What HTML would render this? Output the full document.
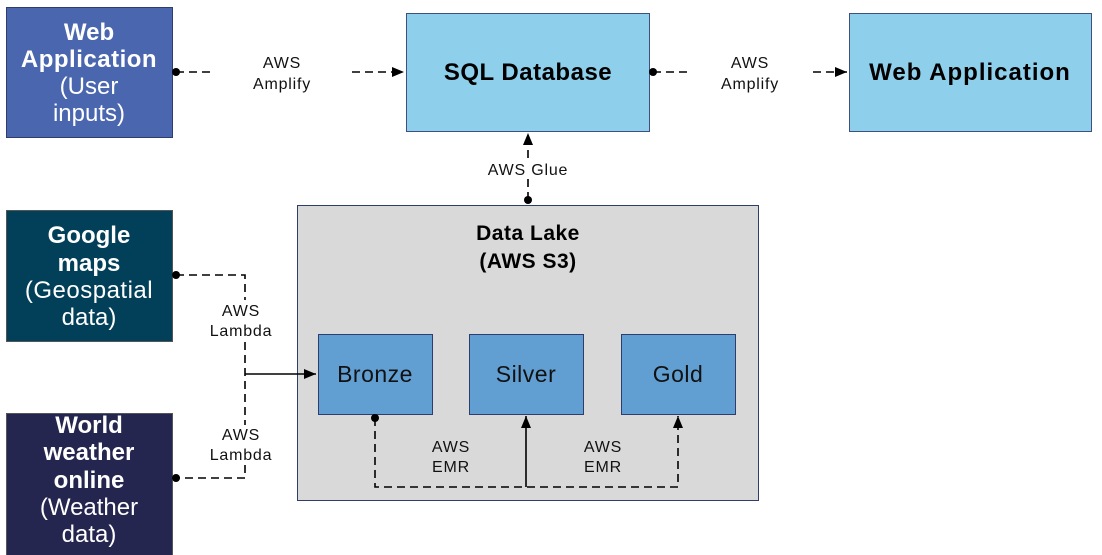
<!DOCTYPE html>
<html><head><meta charset="utf-8"><style>
html,body{margin:0;padding:0;background:#fff;}
svg{display:block;}
text{font-family:"Liberation Sans",sans-serif;}
</style></head><body>
<svg width="1102" height="555" viewBox="0 0 1102 555" xmlns="http://www.w3.org/2000/svg">
<defs>
<marker id="ar" markerWidth="12" markerHeight="10" refX="12" refY="5" orient="auto" markerUnits="userSpaceOnUse"><path d="M0,0 L12,5 L0,10 z" fill="#000"/></marker>
</defs>
<rect x="6.5" y="7.5" width="166" height="130" fill="#4a66ae" stroke="#2f3d6e"/>
<text fill="#fff" font-size="24" text-anchor="middle" x="89"><tspan x="89" y="40" font-weight="bold">Web</tspan><tspan x="89" y="67" font-weight="bold" letter-spacing="0.5">Application</tspan><tspan x="89" y="94">(User</tspan><tspan x="89" y="121">inputs)</tspan></text>

<rect x="406.5" y="13.5" width="243" height="118" fill="#8ecfeb" stroke="#3f4f7f"/>
<text x="528" y="80" font-size="24" font-weight="bold" text-anchor="middle" letter-spacing="0.5">SQL Database</text>

<rect x="849.5" y="13.5" width="242" height="118" fill="#8ecfeb" stroke="#3f4f7f"/>
<text x="970" y="80" font-size="24" font-weight="bold" text-anchor="middle" letter-spacing="1">Web Application</text>

<rect x="6.5" y="210.5" width="166" height="131" fill="#023f58" stroke="#555"/>
<text fill="#fff" font-size="24" text-anchor="middle"><tspan x="89" y="243" font-weight="bold">Google</tspan><tspan x="89" y="271" font-weight="bold">maps</tspan><tspan x="89" y="298" letter-spacing="0.5">(Geospatial</tspan><tspan x="89" y="325">data)</tspan></text>

<rect x="6.5" y="413.5" width="166" height="145" fill="#25264f" stroke="#555"/>
<text fill="#fff" font-size="24" text-anchor="middle"><tspan x="89" y="433" font-weight="bold">World</tspan><tspan x="89" y="460" font-weight="bold">weather</tspan><tspan x="89" y="488" font-weight="bold">online</tspan><tspan x="89" y="515">(Weather</tspan><tspan x="89" y="542">data)</tspan></text>

<rect x="297.5" y="205.5" width="461" height="295" fill="#d9d9d9" stroke="#2f3d6e"/>
<text x="528" y="240" font-size="21" font-weight="bold" text-anchor="middle" letter-spacing="0.5">Data Lake</text>
<text x="528" y="268" font-size="21" font-weight="bold" text-anchor="middle" letter-spacing="0.5">(AWS S3)</text>

<rect x="318.5" y="334.5" width="114" height="80" fill="#619ed2" stroke="#2f3d6e"/>
<text x="375" y="382" font-size="23" text-anchor="middle" fill="#111" letter-spacing="0.5">Bronze</text>
<rect x="469.5" y="334.5" width="114" height="80" fill="#619ed2" stroke="#2f3d6e"/>
<text x="526" y="382" font-size="23" text-anchor="middle" fill="#111" letter-spacing="0.5">Silver</text>
<rect x="621.5" y="334.5" width="114" height="80" fill="#619ed2" stroke="#2f3d6e"/>
<text x="678" y="382" font-size="23" text-anchor="middle" fill="#111" letter-spacing="0.5">Gold</text>

<g stroke="#000" stroke-width="1.6" fill="none" stroke-dasharray="8,5">
<path d="M176,72 H213"/>
<path d="M352,72 H404" marker-end="url(#ar)"/>
<path d="M653,72 H688"/>
<path d="M813,72 H847" marker-end="url(#ar)"/>
<path d="M528,200 V178"/>
<path d="M528,158 V133" marker-end="url(#ar)"/>
<path d="M176,275 H245 V300"/>
<path d="M245,342 V425"/>
<path d="M245,465 V478 H176"/>
<path d="M375,418 V487 H678 V416" marker-end="url(#ar)"/>
</g>
<g stroke="#000" stroke-width="1.6" fill="none">
<path d="M245,374 H316" marker-end="url(#ar)"/>
<path d="M526,487 V416" marker-end="url(#ar)"/>
</g>
<g fill="#000">
<circle cx="176" cy="72" r="4"/><circle cx="653" cy="72" r="4"/><circle cx="528" cy="200" r="4"/>
<circle cx="176" cy="275" r="4"/><circle cx="176" cy="478" r="4"/><circle cx="375" cy="418" r="4"/>
</g>
<g font-size="16" text-anchor="middle" fill="#111" letter-spacing="0.8">
<text x="282" y="68">AWS</text><text x="282" y="89">Amplify</text>
<text x="750" y="68">AWS</text><text x="750" y="89">Amplify</text>
<text x="528" y="175">AWS Glue</text>
<text x="241" y="316">AWS</text><text x="241" y="336">Lambda</text>
<text x="241" y="440">AWS</text><text x="241" y="460">Lambda</text>
<text x="451" y="452">AWS</text><text x="451" y="472">EMR</text>
<text x="603" y="452">AWS</text><text x="603" y="472">EMR</text>
</g>
</svg>
</body></html>
